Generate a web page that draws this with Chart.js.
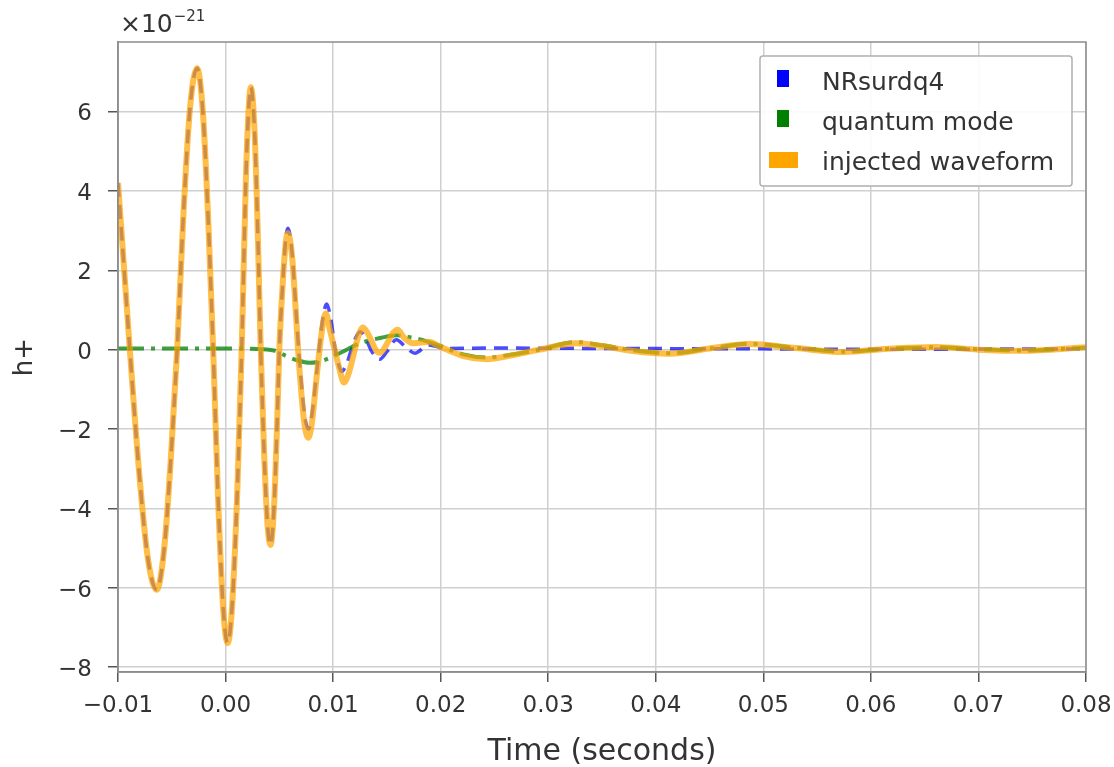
<!DOCTYPE html>
<html><head><meta charset="utf-8">
<script src="https://cdn.jsdelivr.net/npm/chart.js@4.4.1/dist/chart.umd.min.js"></script>
<style>html,body{margin:0;padding:0;background:#fff;}canvas{display:block;}</style>
</head><body>
<canvas id="c" width="1114" height="767"></canvas>
<script>
// ---- data (values in units of 1e-21) ----
const seriesNames = ['NRsurdq4', 'quantum mode', 'injected waveform'];
const xTickValues = [-0.01, 0.00, 0.01, 0.02, 0.03, 0.04, 0.05, 0.06, 0.07, 0.08];
const yTickValues = [-8, -6, -4, -2, 0, 2, 4, 6];
const exponentLabel = ['\u00d710', '\u221221'];
const xAxisTitle = 'Time (seconds)';
const yAxisTitle = 'h+';

const injTimes = [-0.0100,-0.0095,-0.0089,-0.0080,-0.0072,-0.0064,-0.0057,-0.0051,-0.0045,-0.0039,-0.0033,-0.00265,-0.0021,-0.0016,-0.00115,-0.0007,-0.0002,0.0002,0.0006,0.0011,0.0015,0.0019,0.0022,0.00235,0.0027,0.0030,0.00327,0.0036,0.0039,0.00418,0.0045,0.0048,0.0050,0.0053,0.0056,0.0058,0.0062,0.0065,0.00674,0.0070,0.0073,0.00768,0.0080,0.0085,0.0090,0.00932,0.0097,0.0101,0.0106,0.0110,0.0115,0.0119,0.0123,0.01276,0.0132,0.0136,0.0140,0.01434,0.0148,0.0152,0.0156,0.0160,0.0166,0.01744,0.0189,0.0199,0.0221,0.0243,0.0265,0.0292,0.0326,0.0350,0.0375,0.0413,0.0450,0.0487,0.0530,0.0574,0.0620,0.0660,0.0700,0.0740,0.0800];
const injValues = [4.2,2.3,0,-3.2,-5.3,-6.05,-5.0,-2.8,0,3.5,6.1,7.09,5.95,3.2,0,-3.7,-6.6,-7.39,-6.5,-3.5,0,4.4,6.3,6.61,5.5,2.9,0,-2.7,-4.4,-4.92,-4.0,-1.8,0,1.6,2.7,2.93,2.3,1.1,0,-0.94,-1.8,-2.22,-1.9,-0.6,0.55,0.92,0.5,0.05,-0.5,-0.83,-0.55,-0.13,0.3,0.56,0.42,0.2,-0.02,-0.08,0.05,0.25,0.43,0.5,0.3,0.16,0.2,0.08,-0.16,-0.24,-0.15,0,0.16,0.09,-0.02,-0.1,0.03,0.14,0.04,-0.06,0.03,0.07,0.0,-0.03,0.06];

const nrTimes = [-0.0100,-0.0095,-0.0089,-0.0080,-0.0072,-0.0064,-0.0057,-0.0051,-0.0045,-0.0039,-0.0033,-0.00265,-0.0021,-0.0016,-0.00115,-0.0007,-0.0002,0.0002,0.0006,0.0011,0.0015,0.0019,0.0022,0.00235,0.0027,0.0030,0.00327,0.0036,0.0039,0.00418,0.0045,0.0048,0.0050,0.0053,0.0056,0.0058,0.0062,0.0065,0.0068,0.0071,0.0074,0.0077,0.0080,0.0085,0.0090,0.0094,0.0098,0.0102,0.0106,0.01078,0.0112,0.0117,0.0121,0.0125,0.0130,0.0136,0.01434,0.0150,0.01587,0.0168,0.0176,0.0189,0.0204,0.0250,0.0350,0.0500,0.0600,0.0800];
const nrValues = [4.2,2.3,0,-3.2,-5.3,-6.05,-5.0,-2.8,0,3.5,6.1,7.09,5.95,3.2,0,-3.7,-6.6,-7.39,-6.5,-3.5,0,4.4,6.3,6.61,5.5,2.9,0,-2.7,-4.4,-4.92,-4.0,-1.8,0,1.6,2.8,3.06,2.4,1.2,0,-1.0,-1.75,-2.0,-1.7,-0.5,0.7,1.15,0.75,0.0,-0.45,-0.55,-0.4,0.0,0.3,0.45,0.3,-0.05,-0.24,-0.05,0.25,0.05,-0.09,0.12,0.03,0.04,0.03,0.02,0.01,0.02];

const qmTimes = [-0.0100,0.0000,0.0025,0.0045,0.0057,0.0068,0.0078,0.0090,0.0106,0.0125,0.0145,0.0159,0.0170,0.0181,0.0199,0.0221,0.0243,0.0265,0.0292,0.0326,0.0350,0.0375,0.0413,0.0450,0.0487,0.0530,0.0574,0.0620,0.0660,0.0700,0.0740,0.0800];
const qmValues = [0.03,0.03,0.02,-0.02,-0.17,-0.28,-0.33,-0.28,-0.09,0.16,0.3,0.36,0.32,0.26,0.1,-0.12,-0.2,-0.13,0.0,0.19,0.11,0.0,-0.09,0.03,0.15,0.05,-0.05,0.03,0.06,0.01,-0.02,0.05];

const seriesColors = ['#0000ff', '#008000', '#ffa500'];

// ---- helpers ----
const toPoints = (ts, vs) => ts.map((t, i) => ({x: t, y: vs[i]}));
const minus = s => s.replace('-', '\u2212');
const FONT = '"DejaVu Sans", sans-serif';
const TEXT = '#333333';

const overlay = {
  id: 'overlay',
  afterDraw(chart) {
    const ctx = chart.ctx, a = chart.chartArea;
    ctx.save();
    // frame
    ctx.strokeStyle = '#8c8c8c';
    ctx.lineWidth = 1.5;
    ctx.strokeRect(a.left, a.top, a.right - a.left, a.bottom - a.top);
    // exponent label
    ctx.fillStyle = TEXT;
    ctx.textAlign = 'left';
    ctx.textBaseline = 'alphabetic';
    ctx.font = '25px ' + FONT;
    ctx.fillText(exponentLabel[0], 120, 32);
    const w = ctx.measureText(exponentLabel[0]).width;
    ctx.font = '15px ' + FONT;
    ctx.fillText(exponentLabel[1], 120 + w + 1, 21);
    // legend
    const bx = 760, by = 56, bw = 312, bh = 130;
    ctx.beginPath();
    ctx.roundRect(bx, by, bw, bh, 3);
    ctx.fillStyle = 'rgba(255,255,255,0.9)';
    ctx.fill();
    ctx.strokeStyle = '#b0b0b0';
    ctx.lineWidth = 1.5;
    ctx.stroke();
    const handles = [[777, 70, 12, 17], [777, 110, 12, 17], [769, 152, 29, 16]];
    const baselines = [90, 130, 170];
    ctx.font = '25px ' + FONT;
    chart.data.datasets.forEach((ds, i) => {
      const h = handles[i];
      ctx.fillStyle = seriesColors[i];
      ctx.fillRect(h[0], h[1], h[2], h[3]);
      ctx.fillStyle = TEXT;
      ctx.fillText(ds.label, 822, baselines[i]);
    });
    ctx.restore();
  }
};

new Chart(document.getElementById('c'), {
  type: 'line',
  data: {
    datasets: [
      {label: seriesNames[0], data: toPoints(nrTimes, nrValues), borderColor: 'rgba(0,0,255,0.7)', borderWidth: 3.5, borderDash: [14, 8], order: 3},
      {label: seriesNames[1], data: toPoints(qmTimes, qmValues), borderColor: 'rgba(0,128,0,0.75)', borderWidth: 4, borderDash: [26, 7, 4, 7], order: 2},
      {label: seriesNames[2], data: toPoints(injTimes, injValues), borderColor: 'rgba(255,165,0,0.72)', borderWidth: 6, order: 1}
    ]
  },
  options: {
    responsive: false,
    animation: false,
    devicePixelRatio: 1,
    layout: {padding: {left: 0, right: 28, top: 42, bottom: 0}},
    elements: {
      point: {radius: 0, hoverRadius: 0},
      line: {cubicInterpolationMode: 'monotone', fill: false, borderCapStyle: 'butt'}
    },
    plugins: {legend: {display: false}, tooltip: {enabled: false}},
    events: [],
    scales: {
      x: {
        type: 'linear',
        min: -0.01, max: 0.08,
        afterFit: s => { s.height = 95; s.paddingLeft = 0; s.paddingRight = 0; },
        afterBuildTicks: s => { s.ticks = xTickValues.map(v => ({value: v})); },
        ticks: {
          font: {family: FONT, size: 23}, color: TEXT, padding: 10, maxRotation: 0,
          callback: v => minus(Number(v).toFixed(2))
        },
        grid: {color: '#cfcfcf', lineWidth: 1.5, tickColor: '#555', tickLength: 10, tickWidth: 1.5},
        border: {color: '#8c8c8c', width: 1.5},
        title: {display: true, text: xAxisTitle, font: {family: FONT, size: 30, lineHeight: 1}, color: TEXT, padding: {top: 0, bottom: 0}}
      },
      y: {
        type: 'linear',
        min: -8.12, max: 7.75,
        afterFit: s => { s.width = 118; s.paddingTop = 0; s.paddingBottom = 0; },
        afterBuildTicks: s => { s.ticks = yTickValues.map(v => ({value: v})); },
        ticks: {
          font: {family: FONT, size: 23}, color: TEXT, padding: 16, labelOffset: 3,
          callback: v => minus(String(v))
        },
        grid: {color: '#cfcfcf', lineWidth: 1.5, tickColor: '#555', tickLength: 10, tickWidth: 1.5},
        border: {color: '#8c8c8c', width: 1.5},
        title: {display: true, text: yAxisTitle, font: {family: FONT, size: 26, lineHeight: 1}, color: TEXT, padding: {top: 12, bottom: 0}}
      }
    }
  },
  plugins: [overlay]
});
</script>
</body></html>
